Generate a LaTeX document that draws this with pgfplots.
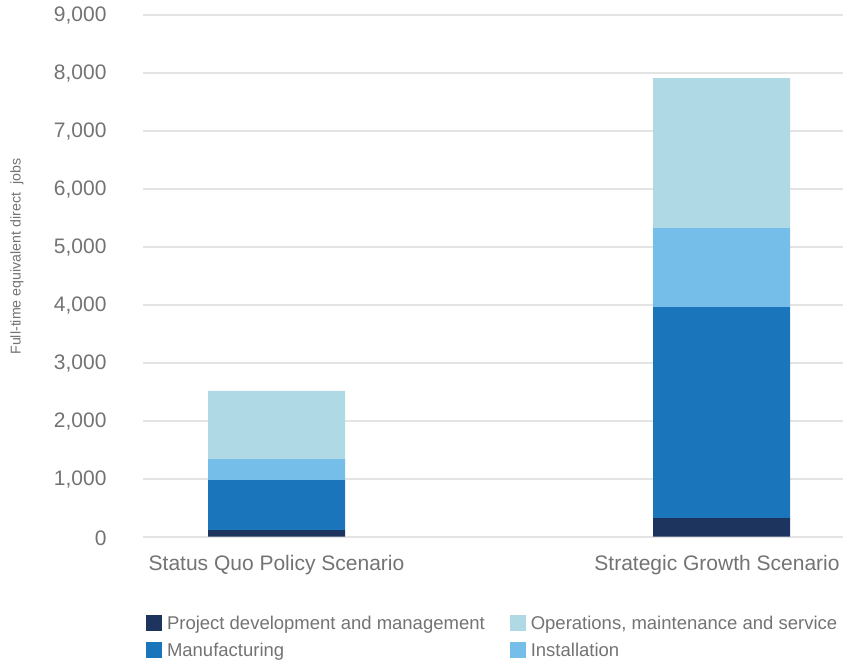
\documentclass[border=0pt]{standalone}
\usepackage{pgfplots}
\pgfplotsset{compat=1.18}
\usepackage{fontspec}
\setmainfont{Liberation Sans}
\definecolor{cproj}{RGB}{29,53,94}
\definecolor{cman}{RGB}{27,117,187}
\definecolor{cins}{RGB}{117,190,233}
\definecolor{com}{RGB}{176,217,230}
\definecolor{ctext}{RGB}{115,115,115}
\definecolor{cgrid}{RGB}{228,228,228}
\begin{document}
\begin{tikzpicture}
\path[use as bounding box] (-143pt,-125.5pt) rectangle (700pt,536.5pt);
\begin{axis}[
  at={(0pt,0pt)}, anchor=south west,
  scale only axis, width=700pt, height=522pt,
  ybar stacked, bar width=137pt,
  xmin=-0.3, xmax=1.273, ymin=0, ymax=9000,
  xtick={0,1}, xticklabels={Status Quo Policy Scenario, {Strategic Growth Scenario\hspace*{9pt}}},
  ytick={0,1000,...,9000},
  axis line style={draw=none}, major tick length=0pt,
  ymajorgrids, grid style={cgrid, line width=2pt},
  tick label style={font=\fontsize{21}{25}\selectfont, text=ctext},
  /pgf/number format/assume math mode=true,
  /pgf/number format/1000 sep={,},
  scaled y ticks=false,
  yticklabel style={xshift=-33pt, yshift=-1.5pt},
  xticklabel style={yshift=-15.5pt},
  ylabel={Full-time equivalent direct\ \ jobs},
  ylabel style={at={(axis description cs:-0.18,0.536)}, anchor=center, font=\fontsize{14.2}{16}\selectfont, text=ctext},
  legend columns=2,
  legend style={at={(axis description cs:0.0043,-0.148)}, anchor=north west, draw=none, fill=none,
    inner sep=0pt, outer sep=0pt,
    font=\fontsize{18.5}{22}\selectfont, text=ctext,
    /tikz/every odd column/.append style={column sep=3pt},
    /tikz/every even column/.append style={column sep=23pt}, row sep=8pt},
  legend image code/.code={\fill[#1] (0pt,-8pt) rectangle (16pt,8pt);},
  legend cell align=left,
]
\addplot[forget plot, fill=cproj, draw=none] coordinates {(0,112) (1,319)};
\addplot[forget plot, fill=cman, draw=none] coordinates {(0,862) (1,3638)};
\addplot[forget plot, fill=cins, draw=none] coordinates {(0,362) (1,1362)};
\addplot[forget plot, fill=com, draw=none] coordinates {(0,1174) (1,2586)};
\addlegendimage{fill=cproj, draw=none}
\addlegendentry{Project development and management}
\addlegendimage{fill=com, draw=none}
\addlegendentry{Operations, maintenance and service}
\addlegendimage{fill=cman, draw=none}
\addlegendentry{Manufacturing}
\addlegendimage{fill=cins, draw=none}
\addlegendentry{Installation}
\end{axis}
\end{tikzpicture}
\end{document}
